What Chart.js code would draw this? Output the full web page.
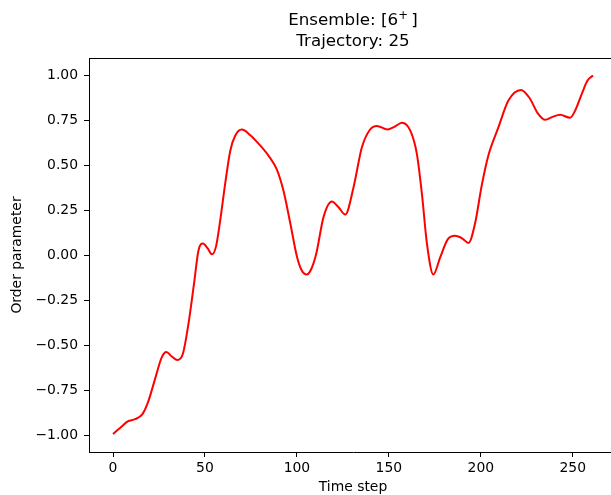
<!DOCTYPE html>
<html>
<head>
<meta charset="utf-8">
<script src="https://cdn.jsdelivr.net/npm/chart.js@4/dist/chart.umd.min.js"></script>
<style>
  html, body { margin: 0; padding: 0; background: #fff; overflow: hidden; width: 611px; height: 495px; }
  #wrap { position: absolute; left: 0; top: 0; width: 611px; height: 495px; overflow: hidden; }
</style>
</head>
<body>
<div id="wrap"><canvas id="myChart" width="640" height="495"></canvas></div>
<script>
// trajectory samples
const timeStep = [0, 4, 8, 12, 16, 19, 23, 26.5, 29, 32, 35, 38, 41, 44, 46.5, 48.9, 51.5, 53.8, 56, 58.3,
  61, 63.8, 66.5, 70.1, 74.5, 80, 85.1, 89, 92.7, 96.4, 100, 102.5, 105.4, 108, 110.5, 114.5, 119, 122.5, 126.3,
  130.8, 135.3, 139.8, 143.5, 149.2, 153, 157.1, 161.6, 165.2, 168, 170.7, 174.2, 177.9, 182, 186, 190,
  193.3, 196.9, 200.5, 204.1, 209.6, 215, 221.8, 226.5, 231, 235, 239, 243.1, 248.5, 251.5, 254.9, 258, 261];
const orderParam = [-0.99, -0.955, -0.92, -0.908, -0.88, -0.815, -0.68, -0.565, -0.535, -0.56, -0.58, -0.545,
  -0.38, -0.16, 0.03, 0.067, 0.04, 0.007, 0.05, 0.196, 0.40, 0.584, 0.667, 0.70, 0.67, 0.612, 0.547, 0.48, 0.36,
  0.18, -0.005, -0.08, -0.105, -0.07, 0.01, 0.215, 0.30, 0.27, 0.228, 0.38, 0.60, 0.70, 0.72, 0.70, 0.715, 0.738,
  0.695, 0.566, 0.34, 0.067, -0.105, -0.01, 0.09, 0.11, 0.095, 0.07, 0.18, 0.39, 0.556, 0.713, 0.861, 0.92,
  0.875, 0.79, 0.754, 0.77, 0.782, 0.765, 0.81, 0.898, 0.972, 1.0];

const xTicks = [0, 50, 100, 150, 200, 250];
const yTicks = [-1, -0.75, -0.5, -0.25, 0, 0.25, 0.5, 0.75, 1];
// first title line: base text, superscript charge, closing bracket
const titleHead = ['Ensemble: [6', '+', '\u2009]'];
const titleSub = 'Trajectory: 25';

const FONT = '"DejaVu Sans", sans-serif';

// top spine and the two-line title
const frame = {
  id: 'frame',
  afterDraw(chart) {
    const { ctx, chartArea: a } = chart;
    ctx.save();
    ctx.strokeStyle = '#000';
    ctx.lineWidth = 1;
    ctx.beginPath();
    ctx.moveTo(a.left, a.top + 0.5);
    ctx.lineTo(a.right, a.top + 0.5);
    ctx.stroke();

    ctx.fillStyle = '#000';
    ctx.textBaseline = 'alphabetic';
    ctx.textAlign = 'left';
    const cx = (a.left + a.right) / 2;
    const big = '16.7px ' + FONT, small = '11.7px ' + FONT;
    ctx.font = big;
    const w0 = ctx.measureText(titleHead[0]).width;
    const w2 = ctx.measureText(titleHead[2]).width;
    ctx.font = small;
    const w1 = ctx.measureText(titleHead[1]).width;
    let x = cx - (w0 + w1 + w2) / 2;
    const base = 25;
    ctx.font = big;
    ctx.fillText(titleHead[0], x, base);
    x += w0;
    ctx.font = small;
    ctx.fillText(titleHead[1], x, base - 6);
    x += w1;
    ctx.font = big;
    ctx.fillText(titleHead[2], x, base);

    ctx.textAlign = 'center';
    ctx.textBaseline = 'middle';
    ctx.fillText(titleSub, cx, 42);
    ctx.restore();
  }
};

const points = timeStep.map((t, i) => ({ x: t, y: orderParam[i] }));

new Chart(document.getElementById('myChart'), {
  type: 'line',
  data: {
    datasets: [{
      data: points,
      borderColor: '#ff0000',
      borderWidth: 2,
      pointRadius: 0,
      fill: false,
      cubicInterpolationMode: 'monotone'
    }]
  },
  options: {
    responsive: false,
    animation: false,
    layout: { padding: { top: 58, right: 23, left: 0, bottom: 0 } },
    plugins: { legend: { display: false }, tooltip: { enabled: false } },
    scales: {
      x: {
        type: 'linear',
        min: -13.05,
        max: 274.05,
        afterBuildTicks: s => { s.ticks = xTicks.map(v => ({ value: v })); },
        afterFit: s => { s.height = 43; },
        grid: { drawOnChartArea: false, tickLength: 5, color: '#000', lineWidth: 1 },
        border: { color: '#000', width: 1 },
        ticks: { color: '#000', font: { family: FONT, size: 13.9 }, padding: 3, maxRotation: 0, autoSkip: false },
        title: { display: true, text: 'Time step', color: '#000', font: { family: FONT, size: 13.9 }, padding: { top: 0, bottom: -1 } }
      },
      y: {
        min: -1.09,
        max: 1.097,
        afterBuildTicks: s => { s.ticks = yTicks.map(v => ({ value: v })); },
        afterFit: s => { s.width = 89; },
        grid: { drawOnChartArea: false, tickLength: 5, color: '#000', lineWidth: 1 },
        border: { color: '#000', width: 1 },
        ticks: {
          color: '#000', font: { family: FONT, size: 13.9 }, padding: 6, autoSkip: false,
          callback: v => v.toFixed(2).replace('-', '\u2212')
        },
        title: { display: true, text: 'Order parameter', color: '#000', font: { family: FONT, size: 13.9 }, padding: { top: 9, bottom: 0 } }
      }
    }
  },
  plugins: [frame]
});
</script>
</body>
</html>
